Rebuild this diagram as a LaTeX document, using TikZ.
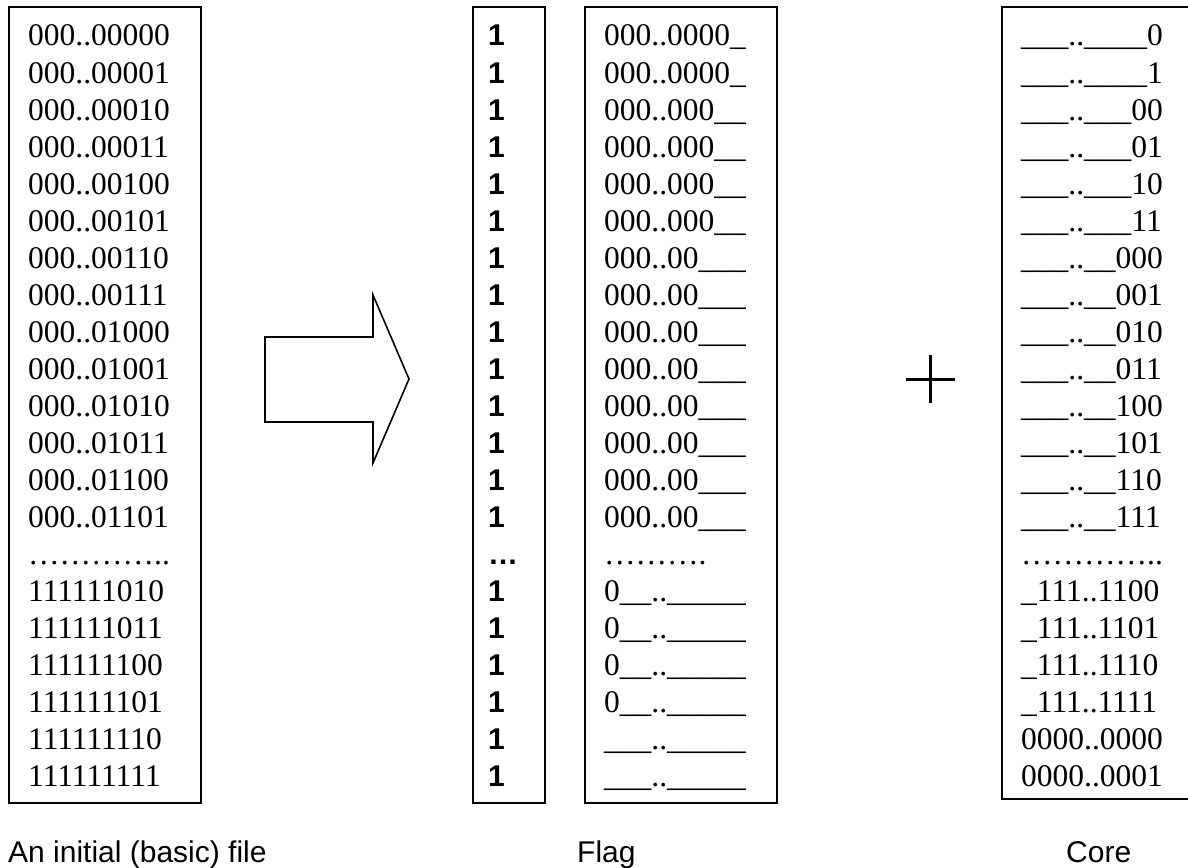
\documentclass[tikz,border=0pt]{standalone}
\usepackage{fontspec}
\setmainfont{Liberation Serif}
\newfontfamily\arialfont{Liberation Sans}
\newfontfamily\arialbold{Liberation Sans Bold}
\begin{document}
\begin{tikzpicture}[x=1pt,y=-1pt,
  box/.style={draw=black,line width=1.6pt},
  rowtext/.style={anchor=base west,inner sep=0pt,font=\fontsize{31.5}{37}\selectfont},
  flagone/.style={anchor=base west,inner sep=0pt,font=\arialbold\fontsize{30}{34}\selectfont},
  caption/.style={anchor=base west,inner sep=0pt,font=\arialfont\fontsize{30}{36}\selectfont}]
\clip (0,0) rectangle (1188,867);
\fill[white] (0,0) rectangle (1188,867);
% boxes
\draw[box] (9,7) rectangle (201,803);
\draw[box] (473,7) rectangle (545,803);
\draw[box] (585,7) rectangle (777,803);
\draw[box] (1002,7) rectangle (1200,799);
% left column
\foreach \t [count=\i from 0] in {000..00000,000..00001,000..00010,000..00011,000..00100,000..00101,000..00110,000..00111,000..01000,000..01001,000..01010,000..01011,000..01100,000..01101,…………..,111111010,111111011,111111100,111111101,111111110,111111111}
  \node[rowtext] (l\i) at (28,{46+37*\i}) {\t};
% flag ones
\foreach \t [count=\i from 0] in {1,1,1,1,1,1,1,1,1,1,1,1,1,1,…,1,1,1,1,1,1}
  \node[flagone] (f\i) at (488,{46+37*\i}) {\t};
% flag text
\foreach \t [count=\i from 0] in {000..0000\_,000..0000\_,000..000\_\_,000..000\_\_,000..000\_\_,000..000\_\_,000..00\_\_\_,000..00\_\_\_,000..00\_\_\_,000..00\_\_\_,000..00\_\_\_,000..00\_\_\_,000..00\_\_\_,000..00\_\_\_,……….,0\_\_..\_\_\_\_\_,0\_\_..\_\_\_\_\_,0\_\_..\_\_\_\_\_,0\_\_..\_\_\_\_\_,\_\_\_..\_\_\_\_\_,\_\_\_..\_\_\_\_\_}
  \node[rowtext] (t\i) at (604,{46+37*\i}) {\t};
% core text
\foreach \t [count=\i from 0] in {\_\_\_..\_\_\_\_0,\_\_\_..\_\_\_\_1,\_\_\_..\_\_\_00,\_\_\_..\_\_\_01,\_\_\_..\_\_\_10,\_\_\_..\_\_\_11,\_\_\_..\_\_000,\_\_\_..\_\_001,\_\_\_..\_\_010,\_\_\_..\_\_011,\_\_\_..\_\_100,\_\_\_..\_\_101,\_\_\_..\_\_110,\_\_\_..\_\_111,…………..,\_111..1100,\_111..1101,\_111..1110,\_111..1111,0000..0000,0000..0001}
  \node[rowtext] (c\i) at (1021,{46+37*\i}) {\t};
% big arrow
\draw[line width=1.6pt,line join=miter] (265,337) -- (373,337) -- (373,295) -- (409,379) -- (373,463) -- (373,422) -- (265,422) -- cycle;
% plus sign
\draw[line width=3pt] (906,379) -- (955,379);
\draw[line width=3pt] (930,355) -- (930,403);
% captions
\node[caption] (capL) at (8,862) {An initial (basic) file};
\node[caption] (capF) at (577,862) {Flag};
\node[caption] (capC) at (1066,862) {Core};
\end{tikzpicture}
\end{document}
